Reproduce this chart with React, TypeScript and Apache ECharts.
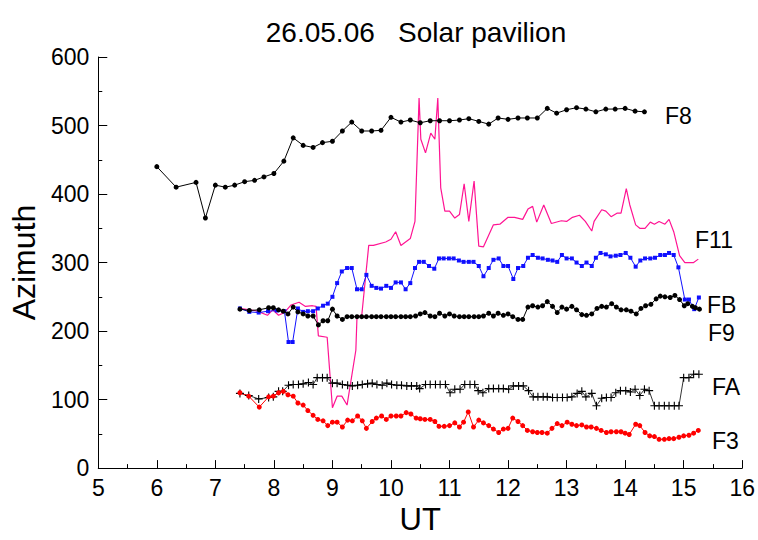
import React, { useEffect, useRef } from "react";
import * as echarts from "echarts";

// ---- Data (UT hours, azimuth) ----
const f8Ut = [6.0, 6.33, 6.67, 6.83, 7.0, 7.17, 7.33, 7.5, 7.67, 7.83, 8.0, 8.17, 8.33, 8.5, 8.67, 8.83, 9.0, 9.17, 9.33, 9.5, 9.67, 9.83, 10.0, 10.17, 10.33, 10.5, 10.67, 10.83, 11.0, 11.17, 11.33, 11.5, 11.67, 11.83, 12.0, 12.17, 12.33, 12.5, 12.67, 12.83, 13.0, 13.17, 13.33, 13.5, 13.67, 13.83, 14.0, 14.17, 14.33];
const f8Az = [440, 410, 417, 365, 413, 410, 413, 418, 420, 425, 430, 448, 482, 471, 468, 475, 477, 492, 505, 492, 492, 493, 512, 505, 508, 504, 507, 507, 507, 508, 510, 506, 502, 511, 509, 511, 511, 511, 525, 518, 523, 526, 524, 520, 524, 524, 525, 521, 520];

const f11Ut = [7.42, 7.5, 7.58, 7.67, 7.75, 7.89, 7.98, 8.08, 8.18, 8.29, 8.43, 8.54, 8.66, 8.72, 8.76, 8.91, 9.0, 9.08, 9.16, 9.25, 9.4, 9.42, 9.5, 9.62, 9.7, 9.91, 10.0, 10.08, 10.17, 10.33, 10.41, 10.48, 10.51, 10.59, 10.68, 10.75, 10.8, 10.85, 10.92, 11.0, 11.09, 11.17, 11.25, 11.33, 11.42, 11.5, 11.58, 11.75, 11.86, 12.0, 12.11, 12.25, 12.34, 12.42, 12.49, 12.61, 12.74, 12.91, 13.0, 13.1, 13.22, 13.32, 13.43, 13.47, 13.6, 13.67, 13.76, 13.86, 13.93, 14.02, 14.08, 14.18, 14.25, 14.34, 14.43, 14.5, 14.58, 14.68, 14.75, 14.83, 14.93, 15.02, 15.17, 15.25];
const f11Az = [233, 232, 231, 230, 228, 223, 231, 223, 227, 238, 242, 236, 237, 236, 193, 191, 88, 105, 105, 92, 172, 222, 222, 325, 325, 330, 334, 345, 325, 335, 360, 540, 480, 460, 489, 480, 540, 409, 375, 375, 365, 370, 415, 360, 419, 324, 323, 355, 356, 366, 366, 363, 378, 382, 359, 384, 357, 361, 360, 366, 369, 360, 346, 360, 377, 375, 367, 372, 372, 408, 384, 355, 350, 350, 359, 356, 360, 356, 363, 345, 310, 300, 300, 305];

const fbUt = [7.42, 7.58, 7.74, 7.9, 8.05, 8.18, 8.25, 8.32, 8.41, 8.5, 8.58, 8.67, 8.75, 8.84, 8.92, 9.0, 9.08, 9.16, 9.25, 9.33, 9.42, 9.5, 9.58, 9.67, 9.75, 9.83, 9.92, 10.0, 10.08, 10.17, 10.25, 10.33, 10.41, 10.48, 10.56, 10.65, 10.74, 10.82, 10.9, 10.99, 11.07, 11.16, 11.24, 11.33, 11.41, 11.5, 11.58, 11.67, 11.75, 11.84, 11.92, 12.0, 12.09, 12.17, 12.26, 12.34, 12.42, 12.51, 12.59, 12.68, 12.76, 12.84, 12.92, 13.0, 13.09, 13.17, 13.26, 13.34, 13.43, 13.5, 13.58, 13.67, 13.75, 13.84, 13.92, 14.01, 14.09, 14.18, 14.26, 14.34, 14.43, 14.51, 14.6, 14.68, 14.75, 14.83, 14.91, 15.02, 15.09, 15.18, 15.26];
const fbAz = [233, 228, 227, 229, 230, 229, 184, 184, 233, 228, 229, 229, 233, 237, 240, 250, 270, 287, 292, 292, 261, 261, 282, 266, 263, 262, 266, 263, 271, 271, 261, 270, 292, 301, 301, 295, 291, 306, 306, 306, 306, 303, 301, 301, 301, 295, 280, 292, 304, 306, 295, 295, 276, 292, 295, 307, 311, 307, 306, 304, 303, 301, 311, 306, 306, 300, 295, 300, 295, 307, 314, 312, 309, 310, 311, 314, 307, 294, 303, 306, 306, 307, 311, 311, 314, 311, 293, 246, 246, 232, 249];

const f9Ut = [7.42, 7.58, 7.75, 7.91, 7.99, 8.08, 8.16, 8.24, 8.33, 8.41, 8.5, 8.58, 8.67, 8.76, 8.84, 8.92, 9.0, 9.08, 9.17, 9.25, 9.33, 9.42, 9.5, 9.58, 9.67, 9.75, 9.83, 9.92, 10.0, 10.08, 10.17, 10.25, 10.33, 10.42, 10.5, 10.58, 10.67, 10.75, 10.83, 10.92, 11.0, 11.08, 11.17, 11.25, 11.33, 11.42, 11.5, 11.58, 11.67, 11.75, 11.83, 11.92, 12.0, 12.08, 12.17, 12.25, 12.34, 12.42, 12.51, 12.59, 12.67, 12.76, 12.84, 12.92, 13.0, 13.09, 13.17, 13.26, 13.34, 13.43, 13.52, 13.6, 13.68, 13.77, 13.85, 13.93, 14.02, 14.1, 14.19, 14.27, 14.35, 14.44, 14.53, 14.6, 14.68, 14.77, 14.85, 14.93, 15.01, 15.07, 15.15, 15.2, 15.27];
const f9Az = [232, 230, 231, 234, 234, 231, 229, 225, 235, 228, 225, 222, 222, 209, 215, 215, 232, 222, 217, 221, 221, 221, 221, 221, 221, 221, 221, 221, 221, 221, 221, 221, 221, 222, 225, 227, 222, 221, 226, 222, 225, 222, 221, 221, 221, 221, 221, 222, 226, 222, 226, 223, 225, 221, 217, 217, 235, 237, 235, 237, 243, 236, 227, 235, 232, 236, 231, 224, 223, 225, 233, 236, 235, 240, 235, 231, 231, 229, 225, 233, 237, 239, 247, 251, 250, 249, 252, 246, 237, 240, 236, 234, 232];

const faUt = [7.42, 7.57, 7.74, 7.91, 7.99, 8.08, 8.15, 8.25, 8.33, 8.42, 8.5, 8.59, 8.67, 8.74, 8.83, 8.91, 9.0, 9.08, 9.17, 9.26, 9.34, 9.43, 9.51, 9.6, 9.68, 9.76, 9.85, 9.93, 10.01, 10.1, 10.18, 10.27, 10.35, 10.44, 10.49, 10.59, 10.67, 10.76, 10.84, 10.93, 11.01, 11.09, 11.18, 11.26, 11.35, 11.43, 11.49, 11.57, 11.67, 11.75, 11.84, 11.92, 12.01, 12.09, 12.18, 12.26, 12.35, 12.43, 12.51, 12.6, 12.67, 12.76, 12.84, 12.93, 13.01, 13.09, 13.18, 13.26, 13.33, 13.43, 13.51, 13.6, 13.68, 13.76, 13.84, 13.92, 14.01, 14.09, 14.17, 14.25, 14.33, 14.41, 14.5, 14.58, 14.67, 14.75, 14.84, 14.92, 15.0, 15.09, 15.17, 15.26];
const faAz = [109, 106, 101, 103, 104, 112, 112, 121, 122, 122, 123, 125, 122, 132, 132, 132, 124, 124, 122, 121, 120, 121, 122, 123, 124, 122, 121, 124, 122, 121, 121, 120, 120, 120, 116, 122, 122, 122, 122, 122, 110, 115, 115, 122, 122, 122, 113, 110, 116, 116, 116, 116, 115, 120, 120, 120, 113, 104, 104, 104, 104, 103, 103, 103, 103, 104, 109, 112, 104, 109, 91, 102, 103, 103, 110, 113, 113, 111, 115, 106, 115, 113, 91, 91, 91, 91, 91, 91, 132, 132, 137, 137];

const f3Ut = [7.42, 7.57, 7.75, 7.91, 7.99, 8.08, 8.16, 8.24, 8.33, 8.41, 8.5, 8.58, 8.67, 8.75, 8.84, 8.92, 9.0, 9.08, 9.17, 9.26, 9.34, 9.43, 9.51, 9.58, 9.68, 9.75, 9.84, 9.92, 10.0, 10.09, 10.17, 10.26, 10.34, 10.43, 10.5, 10.58, 10.67, 10.75, 10.82, 10.91, 11.0, 11.09, 11.17, 11.24, 11.32, 11.41, 11.5, 11.58, 11.67, 11.75, 11.84, 11.92, 12.0, 12.08, 12.17, 12.25, 12.33, 12.42, 12.5, 12.58, 12.67, 12.75, 12.84, 12.92, 13.01, 13.09, 13.17, 13.26, 13.34, 13.42, 13.51, 13.59, 13.68, 13.76, 13.85, 13.93, 14.0, 14.07, 14.18, 14.25, 14.34, 14.42, 14.5, 14.58, 14.67, 14.75, 14.83, 14.92, 15.0, 15.09, 15.17, 15.25];
const f3Az = [110, 105, 89, 104, 105, 110, 112, 107, 105, 95, 92, 84, 77, 71, 69, 62, 67, 67, 60, 70, 69, 76, 69, 58, 68, 73, 76, 71, 76, 76, 76, 81, 79, 73, 72, 71, 71, 68, 61, 61, 62, 66, 60, 67, 82, 60, 70, 66, 62, 57, 52, 57, 58, 73, 68, 62, 55, 53, 52, 52, 51, 58, 65, 62, 67, 64, 62, 63, 60, 60, 58, 55, 52, 53, 53, 53, 51, 49, 64, 62, 52, 47, 46, 42, 42, 43, 43, 45, 47, 48, 51, 55];

const xTicks = { min: 5, max: 16, step: 1 };
const yTicks = { min: 0, max: 600, step: 100 };

const seriesLabels = ["F8", "F11", "FB", "F9", "FA", "F3"];

const FONT = 'Arial, "Liberation Sans", sans-serif';
const PLUS = "path://M4.3,0 H5.7 V4.3 H10 V5.7 H5.7 V10 H4.3 V5.7 H0 V4.3 H4.3 Z";

const zip = (xs: number[], ys: number[]) => xs.map((x, i) => [x, ys[i]]);

export default function App() {
  const ref = useRef<HTMLDivElement>(null);
  useEffect(() => {
    if (!ref.current) return;
    const chart = echarts.init(ref.current, null, { renderer: "svg" });
    const labelPos: Record<string, [number, number]> = {
      F8: [665, 116],
      F11: [695, 240],
      FB: [707, 305],
      F9: [708, 333],
      FA: [712, 387],
      F3: [712, 441],
    };
    chart.setOption({
      animation: false,
      backgroundColor: "#ffffff",
      title: {
        text: "26.05.06   Solar pavilion",
        left: 411,
        textAlign: "center",
        top: 13,
        textStyle: { fontFamily: FONT, fontSize: 28, fontWeight: "normal", color: "#000" },
      },
      grid: { left: 92, right: 15, top: 57, bottom: 61, containLabel: false },
      xAxis: {
        type: "value",
        min: xTicks.min,
        max: xTicks.max,
        interval: xTicks.step,
        name: "UT",
        nameLocation: "middle",
        nameGap: 26,
        nameTextStyle: { fontFamily: FONT, fontSize: 31, color: "#000" },
        axisLine: { show: true, onZero: false, lineStyle: { color: "#000", width: 1 } },
        axisTick: { show: true, inside: true, length: 8, lineStyle: { color: "#000" } },
        minorTick: { show: true, splitNumber: 2, length: 4, lineStyle: { color: "#000" } },
        axisLabel: { fontFamily: FONT, fontSize: 23, color: "#000", margin: 8 },
        splitLine: { show: false },
      },
      yAxis: {
        type: "value",
        min: yTicks.min,
        max: yTicks.max,
        interval: yTicks.step,
        name: "Azimuth",
        nameLocation: "middle",
        nameRotate: 90,
        nameGap: 54,
        nameTextStyle: { fontFamily: FONT, fontSize: 32, color: "#000" },
        axisLine: { show: true, onZero: false, lineStyle: { color: "#000", width: 1 } },
        axisTick: { show: true, inside: true, length: 9, lineStyle: { color: "#000" } },
        minorTick: { show: true, splitNumber: 2, length: 4, lineStyle: { color: "#000" } },
        axisLabel: { fontFamily: FONT, fontSize: 23, color: "#000", margin: 9 },
        splitLine: { show: false },
      },
      series: [
        {
          name: "F11",
          type: "line",
          data: zip(f11Ut, f11Az),
          showSymbol: false,
          symbol: "none",
          lineStyle: { color: "#ff1493", width: 1.2 },
          z: 2,
        },
        {
          name: "F8",
          type: "line",
          data: zip(f8Ut, f8Az),
          symbol: "circle",
          symbolSize: 5,
          itemStyle: { color: "#000" },
          lineStyle: { color: "#000", width: 1 },
          z: 3,
        },
        {
          name: "FB",
          type: "line",
          data: zip(fbUt, fbAz),
          symbol: "rect",
          symbolSize: 4,
          itemStyle: { color: "#1010ff" },
          lineStyle: { color: "#1010ff", width: 1 },
          z: 3,
        },
        {
          name: "F9",
          type: "line",
          data: zip(f9Ut, f9Az),
          symbol: "circle",
          symbolSize: 5,
          itemStyle: { color: "#000" },
          lineStyle: { color: "#000", width: 1 },
          z: 4,
        },
        {
          name: "FA",
          type: "line",
          data: zip(faUt, faAz),
          symbol: PLUS,
          symbolSize: 8,
          itemStyle: { color: "#000" },
          lineStyle: { color: "#000", width: 0.8 },
          z: 4,
        },
        {
          name: "F3",
          type: "line",
          data: zip(f3Ut, f3Az),
          symbol: "circle",
          symbolSize: 5,
          itemStyle: { color: "#ff0000" },
          lineStyle: { color: "#ff0000", width: 1 },
          z: 4,
        },
      ],
      graphic: seriesLabels.map((name) => ({
        type: "text",
        x: labelPos[name][0],
        y: labelPos[name][1],
        style: {
          text: name,
          fontFamily: FONT,
          fontSize: 23,
          fill: "#000",
          verticalAlign: "middle",
        },
      })),
    });
    return () => chart.dispose();
  }, []);
  return (
    <div
      ref={ref}
      style={{ position: "fixed", left: 0, top: 0, width: 758, height: 540, background: "#fff" }}
    />
  );
}
